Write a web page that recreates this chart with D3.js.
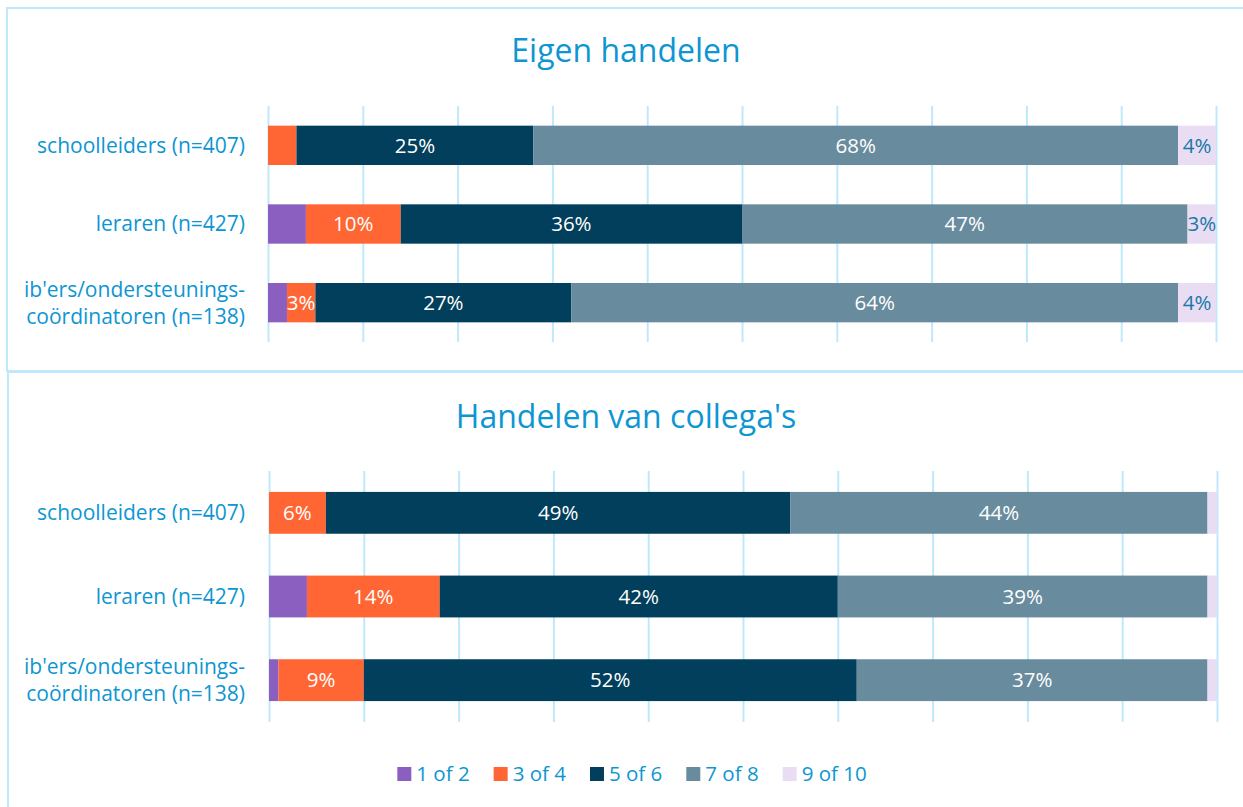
<!DOCTYPE html>
<html>
<head>
<meta charset="utf-8">
<script src="https://cdn.jsdelivr.net/npm/d3@7"></script>
<style>
  body { margin: 0; background: #fff; }
  svg { display: block; font-family: "Open Sans", "Noto Sans", sans-serif; }
</style>
</head>
<body>
<div id="chart-container"></div>
<script>
// categories, series and values (percent)
var categories = ["schoolleiders (n=407)", "leraren (n=427)", "ib'ers/ondersteunings-\ncoördinatoren (n=138)"];
var seriesNames = ["1 of 2", "3 of 4", "5 of 6", "7 of 8", "9 of 10"];
var seriesColors = ["#8b5fbf", "#ff6633", "#023f5c", "#688c9e", "#e8ddf3"];

var titles = ["Eigen handelen", "Handelen van collega's"];

// one row per category, one column per series
var eigenValues = [
  [0, 3, 25, 68, 4],
  [4, 10, 36, 47, 3],
  [2, 3, 27, 64, 4]
];
var collegaValues = [
  [0, 6, 49, 44, 1],
  [4, 14, 42, 39, 1],
  [1, 9, 52, 37, 1]
];
// which segments carry a data label (some small ones are left empty in the original)
var eigenLabels = [
  [0, 0, 1, 1, 1],
  [0, 1, 1, 1, 1],
  [0, 1, 1, 1, 1]
];
var collegaLabels = [
  [0, 1, 1, 1, 0],
  [0, 1, 1, 1, 0],
  [0, 1, 1, 1, 0]
];
var gridTicks = [0, 10, 20, 30, 40, 50, 60, 70, 80, 90, 100];

var width = 1243, height = 807;
var textBlue = "#0d96d2";
var gridColor = "#bfe9fb";

var svg = d3.select("#chart-container").append("svg")
  .attr("width", width)
  .attr("height", height);

// panel frames
svg.append("path")
  .attr("d", "M1243,8 H7 V371 H1243")
  .attr("fill", "none").attr("stroke", gridColor).attr("stroke-width", 2);
svg.append("path")
  .attr("d", "M1243,372 H8 V807")
  .attr("fill", "none").attr("stroke", gridColor).attr("stroke-width", 2);

var panels = [
  { title: titles[0], titleY: 62, values: eigenValues, labels: eigenLabels, x0: 268, x1: 1216, y0: 106, y1: 342 },
  { title: titles[1], titleY: 428, values: collegaValues, labels: collegaLabels, x0: 269, x1: 1217, y0: 471, y1: 722 }
];

panels.forEach(function(p) {
  var g = svg.append("g");

  var x = d3.scaleLinear().domain([0, 100]).range([p.x0, p.x1]);
  var y = d3.scaleBand()
    .domain(categories)
    .range([p.y0, p.y1])
    .paddingInner(0.5)
    .paddingOuter(0.25);

  g.append("text")
    .attr("x", 626)
    .attr("y", p.titleY)
    .attr("text-anchor", "middle")
    .attr("fill", textBlue)
    .style("font-size", "32px")
    .text(p.title);

  // vertical gridlines
  var grid = g.append("g")
    .attr("transform", "translate(0," + p.y1 + ")")
    .call(d3.axisBottom(x).tickValues(gridTicks).tickSize(-(p.y1 - p.y0)).tickFormat(""));
  grid.select(".domain").remove();
  grid.selectAll(".tick line").attr("stroke", gridColor).attr("stroke-width", 2);

  // stacked rows
  var rows = categories.map(function(c, i) {
    var start = 0;
    return p.values[i].map(function(v, j) {
      var seg = { cat: c, s: j, v: v, x0: start, x1: start + v, show: p.labels[i][j] };
      start += v;
      return seg;
    });
  });
  var segs = [].concat.apply([], rows);

  g.selectAll("rect.bar")
    .data(segs.filter(function(d) { return d.v > 0; }))
    .enter().append("rect")
    .attr("class", "bar")
    .attr("x", function(d) { return x(d.x0); })
    .attr("width", function(d) { return x(d.x1) - x(d.x0); })
    .attr("y", function(d) { return y(d.cat); })
    .attr("height", y.bandwidth())
    .attr("fill", function(d) { return seriesColors[d.s]; });

  g.selectAll("text.val")
    .data(segs.filter(function(d) { return d.show; }))
    .enter().append("text")
    .attr("class", "val")
    .attr("x", function(d) { return (x(d.x0) + x(d.x1)) / 2; })
    .attr("y", function(d) { return y(d.cat) + y.bandwidth() / 2; })
    .attr("dy", "0.35em")
    .attr("text-anchor", "middle")
    .attr("fill", function(d) { return d.s === 4 ? "#1a78a8" : "#fff"; })
    .style("font-size", "20.5px")
    .text(function(d) { return d.v + "%"; });

  // category labels
  categories.forEach(function(c) {
    var lines = c.split("\n");
    var cy = y(c) + y.bandwidth() / 2;
    var t = g.append("text")
      .attr("x", 245)
      .attr("text-anchor", "end")
      .attr("fill", textBlue)
      .style("font-size", "21px");
    lines.forEach(function(l, k) {
      t.append("tspan")
        .attr("x", 245)
        .attr("y", cy + (k - (lines.length - 1) / 2) * 27)
        .attr("dy", "0.35em")
        .text(l);
    });
  });
});

// legend
var legend = svg.append("g");
var lx = 0;
seriesNames.forEach(function(n, i) {
  var item = legend.append("g");
  item.append("rect")
    .attr("x", 0).attr("y", -7)
    .attr("width", 14).attr("height", 14)
    .attr("fill", seriesColors[i]);
  var t = item.append("text")
    .attr("x", 19).attr("dy", "0.35em")
    .attr("fill", textBlue)
    .style("font-size", "20.5px")
    .text(n);
  var w = 19 + t.node().getComputedTextLength();
  item.attr("transform", "translate(" + lx + ",0)");
  lx += w + 24;
});
var total = lx - 24;
legend.attr("transform", "translate(" + (632 - total / 2) + ",774)");
</script>
</body>
</html>
